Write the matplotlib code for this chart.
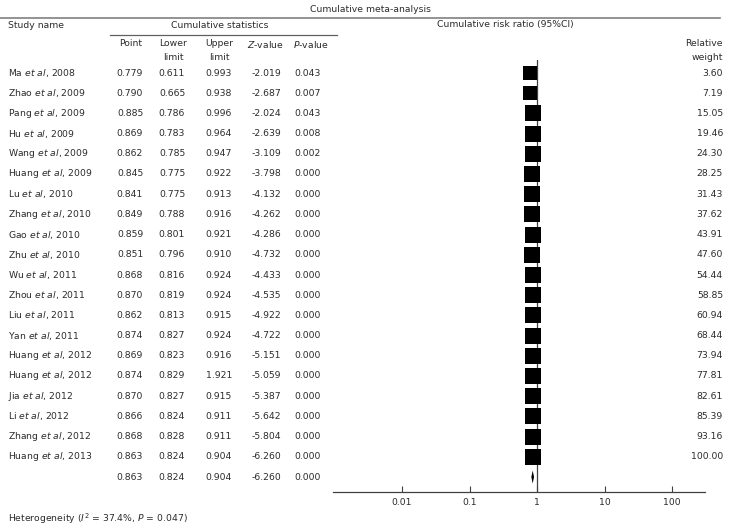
import matplotlib
matplotlib.use("Agg")
import matplotlib.pyplot as plt
import numpy as np

plt.rcParams['font.family'] = ['DejaVu Sans']
plt.rcParams['mathtext.fontset'] = 'dejavusans'

authors = ["Ma", "Zhao", "Pang", "Hu", "Wang", "Huang", "Lu", "Zhang", "Gao", "Zhu",
           "Wu", "Zhou", "Liu", "Yan", "Huang", "Huang", "Jia", "Li", "Zhang", "Huang"]
years = [2008, 2009, 2009, 2009, 2009, 2009, 2010, 2010, 2010, 2010,
         2011, 2011, 2011, 2011, 2012, 2012, 2012, 2012, 2012, 2013]
point = [0.779, 0.790, 0.885, 0.869, 0.862, 0.845, 0.841, 0.849, 0.859, 0.851,
         0.868, 0.870, 0.862, 0.874, 0.869, 0.874, 0.870, 0.866, 0.868, 0.863]
lower = [0.611, 0.665, 0.786, 0.783, 0.785, 0.775, 0.775, 0.788, 0.801, 0.796,
         0.816, 0.819, 0.813, 0.827, 0.823, 0.829, 0.827, 0.824, 0.828, 0.824]
upper = [0.993, 0.938, 0.996, 0.964, 0.947, 0.922, 0.913, 0.916, 0.921, 0.910,
         0.924, 0.924, 0.915, 0.924, 0.916, 1.921, 0.915, 0.911, 0.911, 0.904]
zval = [-2.019, -2.687, -2.024, -2.639, -3.109, -3.798, -4.132, -4.262, -4.286, -4.732,
        -4.433, -4.535, -4.922, -4.722, -5.151, -5.059, -5.387, -5.642, -5.804, -6.260]
pval = [0.043, 0.007, 0.043, 0.008, 0.002, 0.000, 0.000, 0.000, 0.000, 0.000,
        0.000, 0.000, 0.000, 0.000, 0.000, 0.000, 0.000, 0.000, 0.000, 0.000]
weight = [3.60, 7.19, 15.05, 19.46, 24.30, 28.25, 31.43, 37.62, 43.91, 47.60,
          54.44, 58.85, 60.94, 68.44, 73.94, 77.81, 82.61, 85.39, 93.16, 100.00]
summary = dict(point=0.863, lower=0.824, upper=0.904, z=-6.260, p=0.000)
xticks = [0.01, 0.1, 1, 10, 100]
xtick_labels = ["0.01", "0.1", "1", "10", "100"]
heterogeneity = r"Heterogeneity ($\mathit{I}^2$ = 37.4%, $\mathit{P}$ = 0.047)"

W, H = 743, 530
DPI = 100
fig = plt.figure(figsize=(W / DPI, H / DPI), dpi=DPI)

TXT = '#2b2b2b'
LINE = '#606060'
FS = 6.7

# text layer in pixel coordinates
tax = fig.add_axes([0, 0, 1, 1])
tax.set_xlim(0, W)
tax.set_ylim(H, 0)
tax.axis('off')

def t(x, y, s, ha='left', **kw):
    tax.text(x, y, s, ha=ha, va='center', fontsize=FS, color=TXT, **kw)

t(371, 9, "Cumulative meta-analysis", ha='center')
tax.plot([0, 720], [18, 18], color='#808080', lw=1.2)
t(8, 25, "Study name")
t(220, 25, "Cumulative statistics", ha='center')
tax.plot([110, 337], [35, 35], color=LINE, lw=0.9)
t(505, 25, "Cumulative risk ratio (95%CI)", ha='center')

cols = [130, 172, 219, 266, 308]
t(131, 44, "Point", ha='center')
t(173, 44, "Lower", ha='center')
t(173, 57, "limit", ha='center')
t(219, 44, "Upper", ha='center')
t(219, 57, "limit", ha='center')
t(265, 44, r"$\mathit{Z}$-value", ha='center')
t(311, 44, r"$\mathit{P}$-value", ha='center')
t(723, 44, "Relative", ha='right')
t(723, 57, "weight", ha='right')

Y0, DY = 73, 20.2
n = len(authors)
for i in range(n):
    y = Y0 + DY * i
    t(8, y, r"%s $\mathit{et\ al}$, %d" % (authors[i], years[i]))
    vals = [point[i], lower[i], upper[i], zval[i], pval[i]]
    for cx, v in zip(cols, vals):
        t(cx, y, "%.3f" % v, ha='center')
    t(723, y, "%.2f" % weight[i], ha='right')

ys = Y0 + DY * n
for cx, v in zip(cols, [summary['point'], summary['lower'], summary['upper'],
                        summary['z'], summary['p']]):
    t(cx, ys, "%.3f" % v, ha='center')

t(8, 519, heterogeneity)

# forest axes
x0_px, x1_px = 333, 705
top_px, bot_px = 60, 492
fax = fig.add_axes([x0_px / W, 1 - bot_px / H, (x1_px - x0_px) / W, (bot_px - top_px) / H])
fax.set_xscale('log')
px_per_dec = 67.5
lo = -2 - (402 - x0_px) / px_per_dec
hi = 2 + (x1_px - 672) / px_per_dec
fax.set_xlim(10 ** lo, 10 ** hi)
fax.set_ylim((bot_px - Y0) / DY, (top_px - Y0) / DY)
fax.patch.set_alpha(0)
for s in ['top', 'right', 'left']:
    fax.spines[s].set_visible(False)
fax.spines['bottom'].set_color('#404040')
fax.spines['bottom'].set_linewidth(0.9)
fax.set_yticks([])
fax.set_xticks(xticks)
fax.set_xticklabels(xtick_labels)
fax.xaxis.set_minor_locator(matplotlib.ticker.NullLocator())
fax.tick_params(axis='x', direction='in', length=4.5, width=0.8, color='#404040',
                labelsize=FS, labelcolor=TXT, pad=4.5)

fax.axvline(1, color='#404040', lw=0.9)

for i in range(n):
    side = 14 if weight[i] < 10 else 15.5
    fax.plot([point[i]], [i], marker='s', ms=side * 72 / DPI, color='black',
             mec='black', mew=0, linestyle='none')

# summary diamond
yd = n
hh = 0.32
fax.fill([summary['lower'], summary['point'], summary['upper'], summary['point']],
         [yd, yd - hh, yd, yd + hh], color='black', lw=0)

fig.savefig("out.png", dpi=DPI)
